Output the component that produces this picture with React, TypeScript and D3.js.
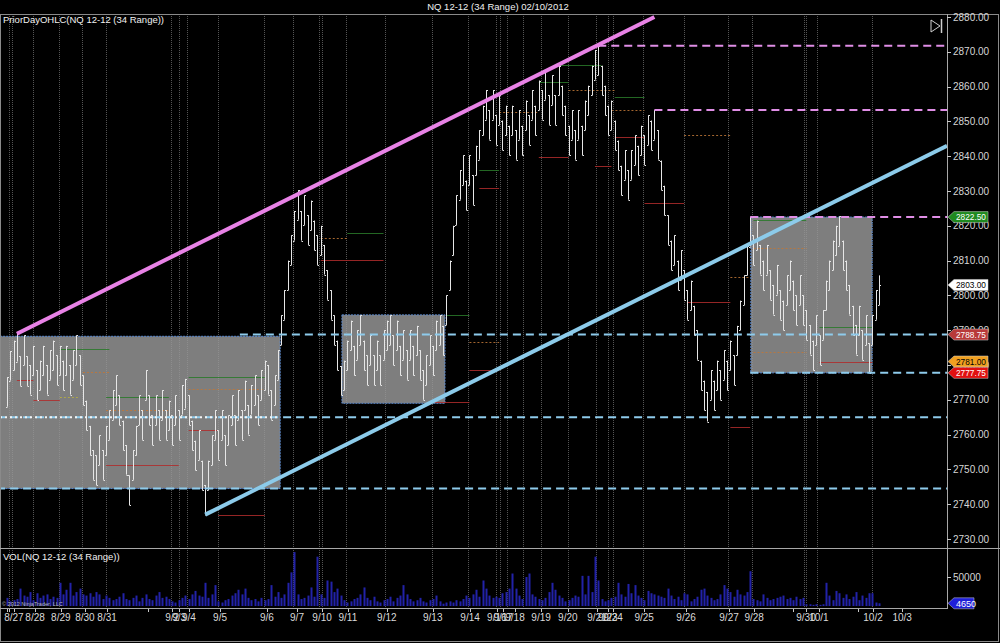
import React from 'react';
import * as d3 from 'd3';

// ---- Data ----
const RANGE = 8.5; // 34 ticks of 0.25
const LAST_PRICE = 2803;
const BAR_LOWS = [
  2768, 2775.5, 2778.5, 2781, 2774, 2780, 2774, 2771.5, 2777, 2770,
  2772.75, 2777, 2771.5, 2775.75, 2778.5, 2774.25, 2777, 2772.75, 2777, 2771.5,
  2775.75, 2780, 2774.25, 2768.5, 2761.25, 2754, 2747, 2745.5, 2751.25, 2747,
  2754, 2758.5, 2764.25, 2768.5, 2762.75, 2755.5, 2748.5, 2739.75, 2747, 2754,
  2762.75, 2758.5, 2770, 2762.75, 2757, 2762.75, 2758.5, 2764.25, 2758.5, 2761.25,
  2757, 2762.75, 2758.5, 2765.75, 2767.5, 2762.75, 2755.5, 2749.75, 2752.75, 2744,
  2737, 2744, 2751.25, 2758.5, 2752.75, 2758.5, 2751.25, 2757, 2762.75, 2757,
  2764.25, 2758.5, 2767, 2760, 2765.75, 2768.5, 2762.75, 2770, 2772.75, 2771.5,
  2764.25, 2768.5, 2775.75, 2785.75, 2793, 2801.5, 2808.75, 2815.75, 2821.75, 2815.75,
  2820.25, 2814.5, 2818.75, 2813, 2808.75, 2811.5, 2806, 2798.75, 2793, 2785.75,
  2778.5, 2771.25, 2772.75, 2778.5, 2784.25, 2777, 2781.5, 2785.75, 2778.5, 2774.25,
  2780, 2774.25, 2778.5, 2774.25, 2781.5, 2784.25, 2785.75, 2780, 2784.25, 2777,
  2781.5, 2775.75, 2781.5, 2777, 2782.75, 2775.75, 2770, 2774.25, 2780, 2777,
  2784.25, 2785.75, 2782.75, 2791.5, 2801.5, 2811.5, 2820.25, 2827.5, 2831.75, 2824.5,
  2831.75, 2826, 2834.5, 2839, 2846, 2850.5, 2844.75, 2850.5, 2843.25, 2849,
  2841.75, 2846, 2840.25, 2846, 2839, 2844.75, 2840.25, 2847.5, 2843.25, 2850.5,
  2846, 2853.25, 2850.5, 2856.25, 2849, 2854.75, 2849, 2857.5, 2851.75, 2846,
  2840.25, 2844.75, 2839, 2844.75, 2840.25, 2847.5, 2851.75, 2857.5, 2862, 2863.25,
  2857.5, 2851.75, 2846, 2847.5, 2841.75, 2836, 2828.75, 2833.25, 2827.5, 2833.25,
  2837.5, 2834.5, 2840.25, 2837.5, 2843.25, 2841.75, 2844.75, 2839, 2830.25, 2823,
  2814.5, 2807.25, 2808.75, 2801.5, 2804.5, 2798.75, 2793, 2795.75, 2788.5, 2781.5,
  2772.75, 2767, 2763.75, 2770, 2767, 2772.75, 2770, 2775.75, 2772.75, 2778.5,
  2774.25, 2782.75, 2790, 2797.25, 2805.75, 2814, 2808.75, 2813, 2806, 2801.5,
  2806, 2798.75, 2794.5, 2800.25, 2793, 2790, 2797.25, 2801.5, 2795.75, 2791.5,
  2797.25, 2791.5, 2787.25, 2783, 2778.5, 2785.75, 2780, 2787.25, 2795.75, 2801.5,
  2807.25, 2811.5, 2814.25, 2807.25, 2801.5, 2794.5, 2788.5, 2783, 2788.5, 2781.5,
  2785.75, 2777.75, 2785.75, 2793, 2797.25,
];
// volume per bar, in thousands of contracts
const VOLUME_K = [
  14, 8, 10, 12, 30, 18, 16, 24,
  10, 22, 14, 18, 20, 12, 16, 14,
  40, 20, 28, 40, 18, 24, 30,
  20, 18, 22, 16, 24, 20, 12,
  18, 14, 10, 12, 16, 22, 12, 10, 14, 18, 8, 14, 20, 12, 10, 18, 24, 14, 16,
  12, 8, 6, 10, 14, 18, 12, 20, 26, 18, 16, 40, 14, 20, 36,
  8, 6, 10, 12, 18, 22, 28, 20, 30, 14, 10, 12, 8,
  14, 10, 12, 36, 16, 24, 14, 20, 40, 58, 93,
  20, 12, 14, 18, 32, 16,
  85,
  20, 14, 44, 42, 24, 30, 18,
  10, 6, 8, 12, 14, 20, 32, 14, 10, 16, 8, 6, 10, 12, 16, 8, 14, 18, 36, 20, 12, 8, 10, 14, 8, 6, 10, 12, 18, 8,
  4, 6, 8, 6, 10, 8, 12, 18, 14,
  20, 28, 16, 44, 30, 18, 14, 16,
  14, 22, 24, 30, 56, 30, 18, 12, 50, 56, 20, 16,
  12, 10, 14, 24, 40, 28, 18, 14, 8, 10, 14, 18, 16, 52, 20, 52, 24,
  85, 44,
  12, 8, 10, 14, 16, 40, 20, 16, 38, 22, 36, 18, 14, 10, 26, 22,
  20, 18, 16, 14, 30, 18, 12, 16, 10, 22, 20, 8, 12, 16, 28, 30, 18, 14, 10, 12, 20,
  36, 30, 24, 16, 28, 20, 18, 24, 60, 12,
  10, 8, 20, 14, 10, 12, 14, 16, 18, 12, 14, 10, 16, 12, 14,
  3, 3, 2, 3, 2, 3, 40,
  18, 10, 26, 22, 14, 20, 12, 16, 24, 10, 18, 14, 22, 22, 6, 4.65,
];
const LAST_VOLUME = 4650;

const PRICE_TICKS = [2730, 2740, 2750, 2760, 2770, 2780, 2790, 2800, 2810, 2820, 2830, 2840, 2850, 2860, 2870, 2880];
const VOL_TICKS = [50000];

const DATE_LABELS = ['8/27', '8/28', '8/29', '8/30', '8/31', '9/2', '9/3', '9/4', '9/5', '9/6', '9/7', '9/10', '9/11', '9/12', '9/13', '9/14', '9/16', '9/17', '9/18', '9/19', '9/20', '9/21', '9/23', '9/24', '9/25', '9/26', '9/27', '9/28', '9/30', '10/1', '10/2', '10/3'];
const DATE_IDX = [2.1, 8.5, 16.3, 23.6, 30.3, 50, 52.1, 55.1, 64.5, 78.7, 87.8, 95.4, 103.2, 115, 128.9, 140.2, 148.3, 150.2, 153.8, 161.7, 169.8, 178.6, 181.9, 183.5, 192.9, 205.6, 218.6, 226.2, 241.9, 245.8, 262.2, 271];
const EXTRA_TICK_IDX = [0, 0.6, 42.7, 238, 257.6];

const SESSION_LINES = [0.6, 1.5, 7.9, 15.7, 22.7, 30, 49.7, 52.1, 54.5, 63.9, 77.8, 86.6, 94.5, 95.4, 102.6, 114.4, 128.7, 139.6, 148, 149.3, 151.4, 156.3, 161.7, 169.8, 178.3, 182, 183.5, 192.6, 205, 218.3, 225.5, 241.3, 241.9, 245.2, 261.9];

// trend lines: [index, price] pairs
const UPPER_TREND = [[3, 2789], [196, 2880]];
const LOWER_TREND = [[60, 2737], [284.6, 2843]];

// horizontal levels: start index, price, colour kind
const LEVEL_START = [179, 196, 225, 70.5, 225, -3, -3];
const LEVEL_PRICE = [2871.75, 2853.25, 2822.5, 2788.75, 2777.75, 2765, 2744.5];
const LEVEL_KIND = ['pink', 'pink', 'pink', 'blue', 'blue', 'blue', 'blue'];

// consolidation boxes
const BOX_FROM = [-3, 101.4, 225.2];
const BOX_TO = [82.7, 132.6, 261.9];
const BOX_TOP = [2788.25, 2794.4, 2822.5];
const BOX_BOTTOM = [2744.5, 2769, 2777.75];

// prior day OHLC segments
const PD_FROM = [16, 23, 8, 3, 16, 30, 30, 30, 55, 55, 55, 64, 103, 95, 95, 133, 140, 140, 128, 143, 143, 167, 161, 170, 149, 161, 184, 183, 184, 178, 205, 193, 206, 219, 219, 226, 226, 226, 246, 246];
const PD_TO = [31, 31, 16, 8, 22, 49, 49, 52, 78, 78, 64, 78, 114, 103, 114, 140, 149, 149, 140, 149, 149, 180, 170, 184, 161, 170, 193, 193, 193, 183, 219, 205, 219, 225, 225, 242, 242, 242, 262, 262];
const PD_PRICE = [2784.6, 2778, 2770, 2775.7, 2770.8, 2770.8, 2767.1, 2751.3, 2776.6, 2773.1, 2761.3, 2736.9, 2817.9, 2816.5, 2810.2, 2794.4, 2786.6, 2778.6, 2769.4, 2836, 2830.9, 2866.2, 2861.3, 2859, 2852.7, 2839.8, 2857, 2853.3, 2845.5, 2837.2, 2846.1, 2826.6, 2798.1, 2805.3, 2762.2, 2821.7, 2813.6, 2783.7, 2790.9, 2780.9];
const PD_KIND = ['H', 'C', 'L', 'L', 'Y', 'H', 'C', 'L', 'H', 'C', 'L', 'L', 'H', 'C', 'L', 'H', 'C', 'L', 'L', 'H', 'L', 'H', 'H', 'C', 'C', 'L', 'H', 'C', 'L', 'L', 'C', 'L', 'L', 'C', 'L', 'H', 'C', 'C', 'H', 'L'];

// price markers on the axis
const MARKER_PRICE = [2822.5, 2803, 2788.75, 2781, 2777.75];
const MARKER_FILL = ['#1f8a1f', '#ffffff', '#b83a3a', '#f0a020', '#e01010'];
const MARKER_TEXT = ['#ffffff', '#000000', '#ffffff', '#000000', '#ffffff'];

const FONT = "'Liberation Sans', Arial, sans-serif";

export default function App() {
  const AXIS_X = 947;
  const PANEL_TOP = 14;
  const PANEL_SPLIT = 548;
  const VOL_BOTTOM = 608;

  const x = d3.scaleLinear().domain([0, 264]).range([7, 879]);
  const y = d3.scaleLinear().domain([2730, 2880]).range([539, 17]);
  const yv = d3.scaleLinear().domain([0, 50000]).range([606, 577]);

  const px = (v: number) => Math.round(v) + 0.5;

  const bars = BAR_LOWS.map((low, i) => {
    const high = low + RANGE;
    const up = i === 0 ? true : low >= BAR_LOWS[i - 1];
    const open = up ? low : high;
    let close = up ? high : low;
    if (i === BAR_LOWS.length - 1) close = LAST_PRICE;
    return { i, low, high, open, close };
  });

  const trendLine = d3.line<number[]>().x((d) => x(d[0])).y((d) => y(d[1]));

  const pdColor: Record<string, string> = { H: '#2a7a2a', L: '#b02c2c', C: '#c07838', Y: '#b8b040' };
  const pdDash: Record<string, string> = { H: 'none', L: 'none', C: '2,2', Y: '2,2' };

  const markerPath = (yc: number, w: number) =>
    `M${AXIS_X + 1},${yc} L${AXIS_X + 7},${yc - 5.5} L${AXIS_X + w},${yc - 5.5} L${AXIS_X + w},${yc + 5.5} L${AXIS_X + 7},${yc + 5.5} Z`;

  return (
    <svg
      width={1000}
      height={643}
      style={{ position: 'absolute', left: 0, top: 0, display: 'block', background: '#000' }}
      fontFamily={FONT}
    >
      <defs>
        <clipPath id="pricePanel">
          <rect x={0} y={PANEL_TOP} width={AXIS_X} height={PANEL_SPLIT - PANEL_TOP} />
        </clipPath>
        <clipPath id="volPanel">
          <rect x={0} y={PANEL_SPLIT} width={AXIS_X} height={VOL_BOTTOM - PANEL_SPLIT} />
        </clipPath>
      </defs>
      <rect x={0} y={0} width={1000} height={643} fill="#000" />

      {/* title */}
      <text x={498} y={10} fill="#f0f0f0" fontSize={9.5} textAnchor="middle">
        NQ 12-12 (34 Range)  02/10/2012
      </text>

      {/* price panel content */}
      <g clipPath="url(#pricePanel)">
        {BOX_FROM.map((b, k) => (
          <rect
            key={'box' + k}
            x={x(b)}
            y={y(BOX_TOP[k])}
            width={x(BOX_TO[k]) - x(b)}
            height={y(BOX_BOTTOM[k]) - y(BOX_TOP[k])}
            fill="#7e7e7e"
          />
        ))}
        {SESSION_LINES.map((s, k) => (
          <line key={'sl' + k} x1={px(x(s))} x2={px(x(s))} y1={PANEL_TOP} y2={PANEL_SPLIT} stroke="#9a9a9a" strokeWidth={1} strokeDasharray="1,1" opacity={0.55} />
        ))}
        {BOX_FROM.map((b, k) => (
          <rect
            key={'boxb' + k}
            x={x(b)}
            y={y(BOX_TOP[k])}
            width={x(BOX_TO[k]) - x(b)}
            height={y(BOX_BOTTOM[k]) - y(BOX_TOP[k])}
            fill="none"
            stroke="#5a8ad0"
            strokeWidth={1}
            strokeDasharray="2,1"
          />
        ))}
        {PD_FROM.map((f, k) => (
          <line
            key={'pd' + k}
            x1={x(f)}
            x2={x(PD_TO[k])}
            y1={px(y(PD_PRICE[k]))}
            y2={px(y(PD_PRICE[k]))}
            stroke={pdColor[PD_KIND[k]]}
            strokeWidth={1}
            strokeDasharray={pdDash[PD_KIND[k]]}
            opacity={0.85}
          />
        ))}
        {bars.map((b) => {
          const cx = px(x(b.i));
          return (
            <g key={'bar' + b.i} stroke="#e6e6e6" strokeWidth={1}>
              <line x1={cx} x2={cx} y1={y(b.high)} y2={y(b.low)} />
              <line x1={cx - 1.5} x2={cx} y1={px(y(b.open))} y2={px(y(b.open))} />
              <line x1={cx} x2={cx + 1.5} y1={px(y(b.close))} y2={px(y(b.close))} />
            </g>
          );
        })}
        {LEVEL_START.map((s, k) => (
          <line
            key={'lv' + k}
            x1={x(s)}
            x2={AXIS_X}
            y1={y(LEVEL_PRICE[k])}
            y2={y(LEVEL_PRICE[k])}
            stroke={LEVEL_KIND[k] === 'pink' ? '#e08ee6' : '#8ecbec'}
            strokeWidth={2}
            strokeDasharray="8,5"
          />
        ))}
        <line x1={0} x2={x(BOX_TO[0])} y1={y(2765)} y2={y(2765)} stroke="#f4f4f4" strokeWidth={2} strokeDasharray="2,3" />
        <path d={trendLine(UPPER_TREND) || ''} stroke="#e882e6" strokeWidth={4} fill="none" />
        <path d={trendLine(LOWER_TREND) || ''} stroke="#8ccbea" strokeWidth={4} fill="none" />
      </g>

      <text x={3} y={23} fill="#f0f0f0" fontSize={9.5}>PriorDayOHLC(NQ 12-12 (34 Range))</text>
      {/* jump-to-end icon */}
      <path d="M931,20 L940,26 L931,32 Z" fill="none" stroke="#cfcfcf" strokeWidth={1} />
      <line x1={941.5} x2={941.5} y1={19} y2={33} stroke="#cfcfcf" strokeWidth={1.5} />

      {/* volume panel */}
      <g clipPath="url(#volPanel)">
        {SESSION_LINES.map((s, k) => (
          <line key={'slv' + k} x1={px(x(s))} x2={px(x(s))} y1={PANEL_SPLIT} y2={VOL_BOTTOM} stroke="#9a9a9a" strokeWidth={1} strokeDasharray="1,1" opacity={0.55} />
        ))}
        {VOLUME_K.map((v, i) => (
          <rect key={'v' + i} x={Math.round(x(i)) - 0.5} y={yv(v * 1000)} width={2} height={yv(0) - yv(v * 1000)} fill="#2222a8" />
        ))}
      </g>
      <text x={3} y={560} fill="#f0f0f0" fontSize={9.5}>VOL(NQ 12-12 (34 Range))</text>
      <text x={2} y={606} fill="#b8b8b8" fontSize={5.5}>© 2012 NinjaTrader, LLC</text>

      {/* frames */}
      <rect x={0.5} y={PANEL_TOP + 0.5} width={998} height={627} fill="none" stroke="#8a8a8a" strokeWidth={1} />
      <line x1={0} x2={1000} y1={PANEL_SPLIT + 0.5} y2={PANEL_SPLIT + 0.5} stroke="#a8a8a8" strokeWidth={1} />
      <line x1={0} x2={AXIS_X} y1={VOL_BOTTOM + 0.5} y2={VOL_BOTTOM + 0.5} stroke="#a8a8a8" strokeWidth={1} />
      <line x1={AXIS_X + 0.5} x2={AXIS_X + 0.5} y1={PANEL_TOP} y2={VOL_BOTTOM + 1} stroke="#a8a8a8" strokeWidth={1} />

      {/* price axis */}
      {PRICE_TICKS.map((t) => (
        <g key={'pt' + t}>
          <line x1={AXIS_X} x2={AXIS_X + 4} y1={px(y(t))} y2={px(y(t))} stroke="#c8c8c8" />
          <text x={AXIS_X + 6} y={y(t) + 3.5} fill="#d6d6d6" fontSize={10}>{t.toFixed(2)}</text>
        </g>
      ))}
      {VOL_TICKS.map((t) => (
        <g key={'vt' + t}>
          <line x1={AXIS_X} x2={AXIS_X + 4} y1={px(yv(t))} y2={px(yv(t))} stroke="#c8c8c8" />
          <text x={AXIS_X + 6} y={yv(t) + 3.5} fill="#d6d6d6" fontSize={10}>{t}</text>
        </g>
      ))}
      {MARKER_PRICE.map((p, k) => (
        <g key={'mk' + k}>
          <path d={markerPath(y(p), 41)} fill={MARKER_FILL[k]} stroke="#d0d0d0" strokeWidth={0.5} />
          <text x={AXIS_X + 9} y={y(p) + 3.2} fill={MARKER_TEXT[k]} fontSize={9} textLength={30} lengthAdjust="spacingAndGlyphs">{p.toFixed(2)}</text>
        </g>
      ))}
      <path d={markerPath(yv(LAST_VOLUME), 27)} fill="#1f1fd8" stroke="#d0d0d0" strokeWidth={0.5} />
      <text x={AXIS_X + 9} y={yv(LAST_VOLUME) + 3.2} fill="#ffffff" fontSize={9}>{LAST_VOLUME}</text>

      {/* date axis */}
      {DATE_IDX.concat(EXTRA_TICK_IDX).map((d, k) => (
        <line key={'dt' + k} x1={px(x(d))} x2={px(x(d))} y1={VOL_BOTTOM + 1} y2={VOL_BOTTOM + 4} stroke="#c8c8c8" />
      ))}
      {DATE_LABELS.map((lab, k) => (
        <text key={'dl' + k} x={x(DATE_IDX[k])} y={621} fill="#dadada" fontSize={10} textAnchor="middle">{lab}</text>
      ))}
    </svg>
  );
}
